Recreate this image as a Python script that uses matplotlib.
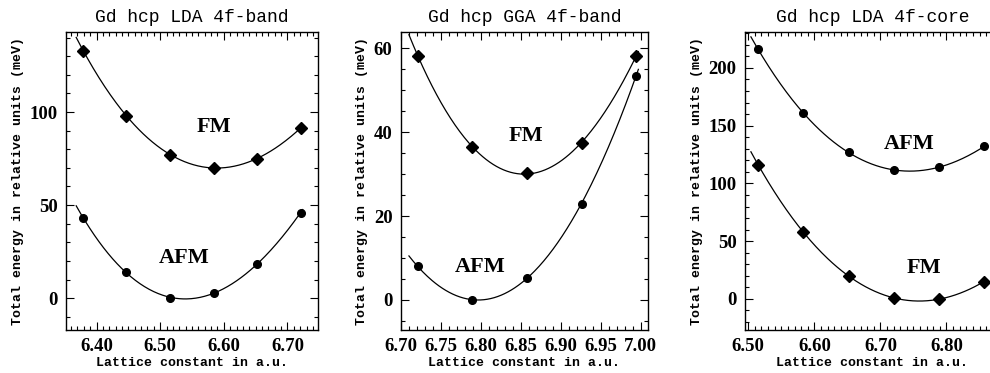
import numpy as np
import matplotlib
matplotlib.use("Agg")
import matplotlib.pyplot as plt
from matplotlib.ticker import MultipleLocator

# Gd hcp LDA 4f-band
lda_band_x = [6.379, 6.447, 6.516, 6.584, 6.652, 6.721]
lda_band_fm = [133.0, 98.0, 77.0, 70.0, 75.0, 91.5]
lda_band_afm = [43.0, 14.0, 0.0, 2.5, 18.5, 46.0]

# Gd hcp GGA 4f-band
gga_band_x = [6.721, 6.789, 6.858, 6.926, 6.994]
gga_band_fm = [58.3, 36.5, 30.2, 37.5, 58.1]
gga_band_afm = [8.0, 0.0, 5.3, 23.0, 53.4]

# Gd hcp LDA 4f-core
lda_core_x = [6.515, 6.583, 6.652, 6.720, 6.788, 6.857]
lda_core_fm = [116.0, 58.0, 20.0, 0.5, 0.0, 15.0]
lda_core_afm = [216.0, 161.0, 127.0, 111.5, 114.0, 132.0]

titles = ["Gd hcp LDA 4f-band", "Gd hcp GGA 4f-band", "Gd hcp LDA 4f-core"]

MONO = "Liberation Mono"
SERIF = "Liberation Serif"
MS = {"D": 6.3, "o": 5.5}


def draw_curve(ax, x, y, marker):
    x = np.asarray(x)
    y = np.asarray(y)
    # glatte Kurve durch die Punkte (Polynomfit)
    c = np.polyfit(x, y, 3)
    xs = np.linspace(x[0] - 0.011, x[-1] + 0.003, 200)
    ax.plot(xs, np.polyval(c, xs), color="black", lw=0.9)
    ax.plot(x, y, linestyle="none", marker=marker, ms=MS[marker], color="black")


def style_axes(ax, title, xmaj, xmin, ymaj, ymin):
    ax.set_title(title, fontfamily=MONO, fontsize=13, pad=7)
    ax.set_xlabel("Lattice constant in a.u.", fontfamily=MONO, fontsize=9.5,
                  fontweight="bold", labelpad=1)
    ax.set_ylabel("Total energy in relative units (meV)", fontfamily=MONO,
                  fontsize=9.5, fontweight="bold", labelpad=4)
    ax.xaxis.set_major_locator(MultipleLocator(xmaj))
    ax.xaxis.set_minor_locator(MultipleLocator(xmin))
    ax.yaxis.set_major_locator(MultipleLocator(ymaj))
    ax.yaxis.set_minor_locator(MultipleLocator(ymin))
    ax.xaxis.set_major_formatter(lambda v, p: f"{v:.2f}")
    ax.tick_params(which="both", direction="in", top=True, right=True,
                   width=0.8)
    ax.tick_params(which="major", length=6, labelsize=13.5, pad=6)
    ax.tick_params(which="minor", length=3)
    for sp in ax.spines.values():
        sp.set_linewidth(1.0)


fig = plt.figure(figsize=(9.9, 3.73), dpi=100)
bottom, top = 0.115, 0.914
ax1 = fig.add_axes([0.0667, bottom, 0.2545, top - bottom])
ax2 = fig.add_axes([0.405, bottom, 0.2495, top - bottom])
ax3 = fig.add_axes([0.7525, bottom, 0.2576, top - bottom])

lab_kw = dict(fontfamily=SERIF, fontweight="bold", fontsize=16,
              ha="center", va="center")

# Panel 1
draw_curve(ax1, lda_band_x, lda_band_fm, "D")
draw_curve(ax1, lda_band_x, lda_band_afm, "o")
ax1.set_xlim(6.352, 6.748)
ax1.set_ylim(-17.2, 143)
style_axes(ax1, titles[0], 0.1, 0.01, 50, 10)
ax1.text(6.584, 92, "FM", **lab_kw)
ax1.text(6.537, 21.5, "AFM", **lab_kw)

# Panel 2
draw_curve(ax2, gga_band_x, gga_band_fm, "D")
draw_curve(ax2, gga_band_x, gga_band_afm, "o")
ax2.set_xlim(6.70, 7.009)
ax2.set_ylim(-7.2, 63.9)
style_axes(ax2, titles[1], 0.05, 0.01, 20, 5)
ax2.text(6.856, 39.2, "FM", **lab_kw)
ax2.text(6.799, 7.8, "AFM", **lab_kw)

# Panel 3
draw_curve(ax3, lda_core_x, lda_core_afm, "o")
draw_curve(ax3, lda_core_x, lda_core_fm, "D")
ax3.set_xlim(6.495, 6.881)
ax3.set_ylim(-27, 231)
style_axes(ax3, titles[2], 0.1, 0.01, 50, 10)
ax3.text(6.743, 134.5, "AFM", **lab_kw)
ax3.text(6.766, 26.5, "FM", **lab_kw)

for ax in (ax1, ax2, ax3):
    for lab in ax.get_xticklabels() + ax.get_yticklabels():
        lab.set_fontfamily(SERIF)
        lab.set_fontweight("bold")

fig.savefig("out.png", dpi=100)
